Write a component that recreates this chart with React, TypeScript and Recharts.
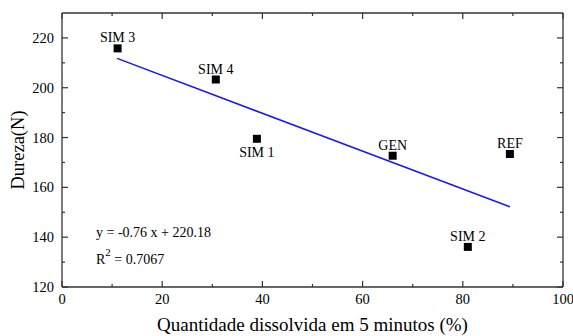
import { ScatterChart, Scatter, XAxis, YAxis } from 'recharts'

// samples: dissolved amount in 5 min (%) vs hardness (N)
const sampleNames = ['SIM 3', 'SIM 4', 'SIM 1', 'GEN', 'REF', 'SIM 2']
const dissolved = [11.1, 30.7, 38.9, 66.0, 89.4, 81.0]
const hardness = [215.8, 203.3, 179.5, 172.7, 173.4, 136.1]
const labelsBelow = ['SIM 1']

// linear fit y = -0.76 x + 220.18, ends
const fitX = [11.0, 89.4]
const fitY = [211.8, 152.2]

const xTicks = [0, 10, 20, 30, 40, 50, 60, 70, 80, 90, 100]
const yTicks = [120, 130, 140, 150, 160, 170, 180, 190, 200, 210, 220]

const points = sampleNames.map((name, i) => ({ name, x: dissolved[i], y: hardness[i] }))
const fitLine = fitX.map((x, i) => ({ x, y: fitY[i] }))

const FONT = '"Liberation Serif", "Times New Roman", serif'
const INK = '#000'
const AXIS = { stroke: '#333', strokeWidth: 1.3 }

const isMajorX = (v: number) => v % 20 === 0
const isMajorY = (v: number) => (v - 120) % 20 === 0

function BottomTick({ x, y, payload }: any) {
  const major = isMajorX(payload.value)
  return (
    <g>
      <line x1={x} y1={y} x2={x} y2={y - (major ? 6 : 3)} stroke="#333" strokeWidth={1.2} />
      {major && (
        <text x={x} y={y + 17} textAnchor="middle" fontSize={14.5} fontFamily={FONT} fill={INK}>
          {payload.value}
        </text>
      )}
    </g>
  )
}

function TopTick({ x, y, payload }: any) {
  const major = isMajorX(payload.value)
  return <line x1={x} y1={y} x2={x} y2={y + (major ? 6 : 3)} stroke="#333" strokeWidth={1.2} />
}

function LeftTick({ x, y, payload }: any) {
  const major = isMajorY(payload.value)
  return (
    <g>
      <line x1={x} y1={y} x2={x + (major ? 6 : 3)} y2={y} stroke="#333" strokeWidth={1.2} />
      {major && (
        <text x={x - 8} y={y + 5} textAnchor="end" fontSize={14.5} fontFamily={FONT} fill={INK}>
          {payload.value}
        </text>
      )}
    </g>
  )
}

function RightTick({ x, y, payload }: any) {
  const major = isMajorY(payload.value)
  return <line x1={x} y1={y} x2={x - (major ? 6 : 3)} y2={y} stroke="#333" strokeWidth={1.2} />
}

function Marker({ cx, cy, payload }: any) {
  const below = labelsBelow.includes(payload.name)
  return (
    <g>
      <rect x={cx - 4} y={cy - 4} width={8} height={8} fill="#000" />
      <text x={cx} y={below ? cy + 18 : cy - 6} textAnchor="middle" fontSize={14} fontFamily={FONT} fill={INK}>
        {payload.name}
      </text>
    </g>
  )
}

const NoShape = () => <g />

const YTitle = ({ viewBox }: any) => (
  <text
    transform={`translate(24, ${viewBox.y + viewBox.height / 2}) rotate(-90)`}
    textAnchor="middle"
    fontSize={18.5}
    fontFamily={FONT}
    fill={INK}
  >
    Dureza(N)
  </text>
)

export default function App() {
  return (
    <div style={{ position: 'absolute', left: 0, top: 0, background: '#fff' }}>
      <ScatterChart width={573} height={336} margin={{ top: 12, right: 9, bottom: 0, left: 0 }}>
        <XAxis
          dataKey="x"
          type="number"
          domain={[0, 100]}
          ticks={xTicks}
          interval={0}
          height={49}
          axisLine={AXIS}
          tickLine={false}
          tickSize={0}
          tickMargin={0}
          tick={<BottomTick />}
          label={{
            value: 'Quantidade dissolvida em 5 minutos (%)',
            position: 'insideBottom',
            offset: 5,
            fontSize: 19,
            fontFamily: FONT,
            fill: INK,
          }}
        />
        <XAxis
          xAxisId="top"
          dataKey="x"
          orientation="top"
          type="number"
          domain={[0, 100]}
          ticks={xTicks}
          interval={0}
          height={1}
          axisLine={AXIS}
          tickLine={false}
          tickSize={0}
          tickMargin={0}
          tick={<TopTick />}
        />
        <YAxis
          dataKey="y"
          type="number"
          domain={[120, 230]}
          ticks={yTicks}
          interval={0}
          width={62}
          axisLine={AXIS}
          tickLine={false}
          tickSize={0}
          tickMargin={0}
          tick={<LeftTick />}
          label={{ content: YTitle }}
        />
        <YAxis
          yAxisId="right"
          dataKey="y"
          orientation="right"
          type="number"
          domain={[120, 230]}
          ticks={yTicks}
          interval={0}
          width={1}
          axisLine={AXIS}
          tickLine={false}
          tickSize={0}
          tickMargin={0}
          tick={<RightTick />}
        />
        {/* invisible series so the top/right frame axes get drawn */}
        <Scatter
          xAxisId="top"
          yAxisId="right"
          data={fitLine}
          shape={NoShape}
          isAnimationActive={false}
        />
        <Scatter
          data={fitLine}
          line={{ stroke: '#1414ff', strokeWidth: 1.5 }}
          shape={NoShape}
          isAnimationActive={false}
        />
        <Scatter data={points} shape={Marker} isAnimationActive={false} />
        <text x={96} y={237} fontSize={14} fontFamily={FONT} fill={INK}>
          y = -0.76 x + 220.18
        </text>
        <text x={96} y={264} fontSize={14} fontFamily={FONT} fill={INK}>
          R
          <tspan dy={-8} fontSize={11}>2</tspan>
          <tspan dy={8}> = 0.7067</tspan>
        </text>
      </ScatterChart>
    </div>
  )
}
